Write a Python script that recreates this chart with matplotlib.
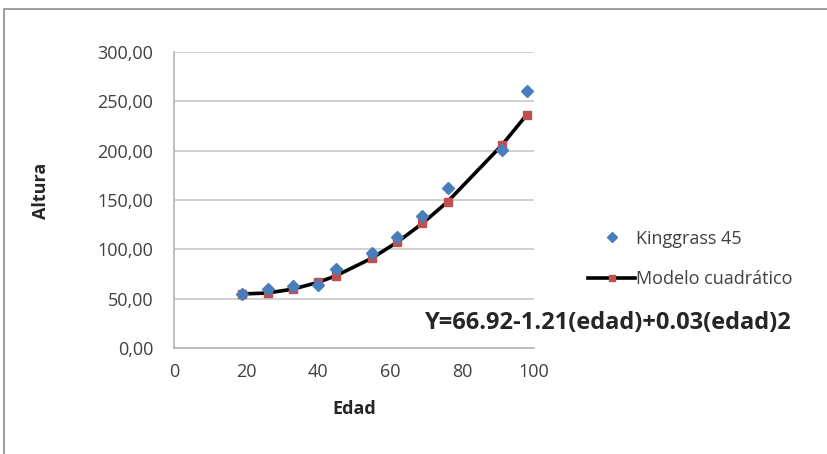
import matplotlib.pyplot as plt
from matplotlib.lines import Line2D
from matplotlib.patches import Rectangle

# edad (dias) y altura observada / ajustada
edad = [19, 26, 33, 40, 45, 55, 62, 69, 76, 91, 98]
altura_obs = [54.7, 59.5, 62.8, 63.9, 80.4, 96.6, 112.2, 133.8, 162.2, 200.7, 260.8]
altura_modelo = [54.76, 55.74, 59.66, 66.52, 73.22, 91.12, 107.22, 126.26, 148.24, 205.24, 236.46]

x_ticks = [0, 20, 40, 60, 80, 100]
y_ticks = [0, 50, 100, 150, 200, 250, 300]

serie_obs = "Kinggrass 45"
serie_modelo = "Modelo cuadrático"
ecuacion = "Y=66.92-1.21(edad)+0.03(edad)2"

plt.rcParams["font.family"] = ["Open Sans", "DejaVu Sans"]

fig = plt.figure(figsize=(8.28, 4.54), dpi=100)
# marco exterior del grafico
fig.patches.append(Rectangle((4 / 828, -0.01), 1.0, 1 - 9 / 454 + 0.01,
                             transform=fig.transFigure, fill=False,
                             edgecolor="#8c8c8c", linewidth=1.2))

ax = fig.add_axes([174 / 828, 106 / 454, 360 / 828, 296 / 454])
ax.set_xlim(0, 100)
ax.set_ylim(0, 300)
ax.set_xticks(x_ticks)
ax.set_yticks(y_ticks)
ax.set_yticklabels([f"{v:.2f}".replace(".", ",") for v in y_ticks])
ax.grid(axis="y", color="#c8c8c8", linewidth=1.2)
ax.set_axisbelow(True)
for side in ["top", "right"]:
    ax.spines[side].set_visible(False)
for side in ["left", "bottom"]:
    ax.spines[side].set_color("#b4b4b4")
    ax.spines[side].set_linewidth(1.2)
ax.tick_params(length=0, labelsize=13, labelcolor="#404040")
ax.tick_params(axis="y", pad=15)
ax.tick_params(axis="x", pad=11)

ax.plot(edad, altura_modelo, color="black", linewidth=2.6, zorder=2)
ax.plot(edad, altura_modelo, linestyle="none", marker="s", markersize=5.5,
        color="#c0504d", zorder=3)
ax.plot(edad, altura_obs, linestyle="none", marker="D", markersize=6,
        color="#4a7ebb", zorder=4)

ax.set_xlabel("Edad", fontsize=13, fontweight="bold", color="#262626")
ax.set_ylabel("Altura", fontsize=13, fontweight="bold", color="#262626")
ax.xaxis.set_label_coords(0.5, -0.175)
ax.yaxis.set_label_coords(-0.345, 0.53)

handles = [
    Line2D([], [], linestyle="none", marker="D", markersize=5, color="#4a7ebb"),
    Line2D([], [], color="black", linewidth=2.6, marker="s", markersize=5,
           markerfacecolor="#c0504d", markeredgecolor="#c0504d"),
]
fig.legend(handles, [serie_obs, serie_modelo], loc="center left",
           bbox_to_anchor=(572 / 828, 1 - 259 / 454), frameon=False,
           fontsize=13, labelcolor="#404040", handlelength=2.6,
           handletextpad=0.05, labelspacing=1.25)

fig.text(425 / 828, 1 - 323 / 454, ecuacion, fontsize=17, fontweight="bold",
         color="#262626", va="center", ha="left")

fig.savefig("out.png", dpi=100)
